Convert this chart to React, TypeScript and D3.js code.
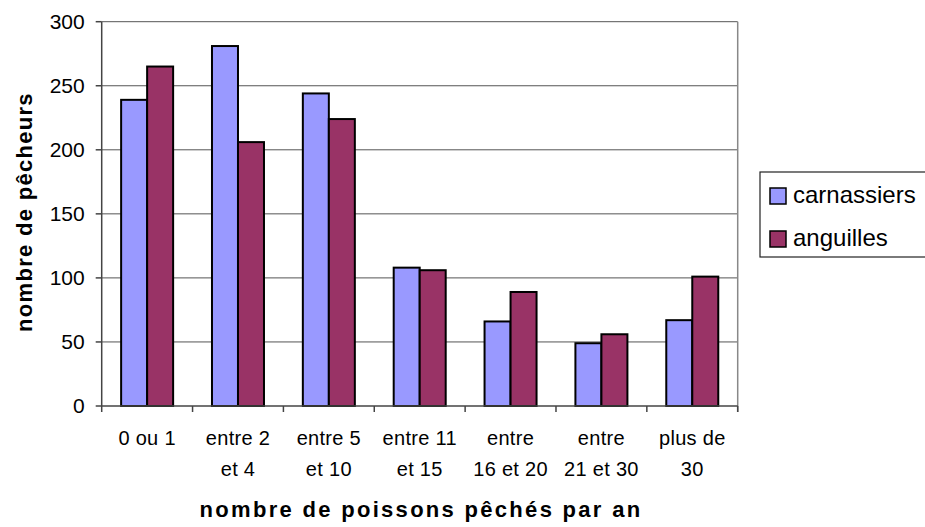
import React from "react";
import * as d3 from "d3";

const categories = [
  ["0 ou 1"],
  ["entre 2", "et 4"],
  ["entre 5", "et 10"],
  ["entre 11", "et 15"],
  ["entre", "16 et 20"],
  ["entre", "21 et 30"],
  ["plus de", "30"],
];
const carnassiers = [239, 281, 244, 108, 66, 49, 67];
const anguilles = [265, 206, 224, 106, 89, 56, 101];
const seriesNames = ["carnassiers", "anguilles"];
const colors = ["#9999FF", "#993366"];
const yTicks = [0, 50, 100, 150, 200, 250, 300];

export default function App() {
  const W = 925, H = 527;
  const left = 101.7, right = 737.7, top = 21.7, bottom = 406;
  const x = d3.scaleBand<number>().domain(d3.range(categories.length)).range([left, right]).paddingInner(0).paddingOuter(0);
  const y = d3.scaleLinear().domain([0, 300]).range([bottom, top]);
  const bw = 26;
  const series = [carnassiers, anguilles];
  const font = "'Liberation Sans', Arial, sans-serif";
  return (
    <svg width={W} height={H} style={{ position: "absolute", left: 0, top: 0 }} fontFamily={font}>
      <rect width={W} height={H} fill="#fff" />
      {yTicks.map((t) => (
        <g key={t}>
          {t > 0 && <line x1={left} x2={right} y1={y(t)} y2={y(t)} stroke="#555" strokeWidth={1} />}
          <line x1={left - 6} x2={left} y1={y(t)} y2={y(t)} stroke="#444" strokeWidth={1.5} />
          <text x={left - 17} y={y(t)} dy="0.35em" textAnchor="end" fontSize={21}>{t}</text>
        </g>
      ))}
      <line x1={right} x2={right} y1={top} y2={bottom + 6} stroke="#888" strokeWidth={1.5} />
      {categories.map((c, i) => {
        const x0 = x(i)!;
        const cx = x0 + x.bandwidth() / 2;
        return (
          <g key={i}>
            {series.map((s, j) => (
              <rect key={j} x={cx - bw + j * bw} y={y(s[i])} width={bw} height={bottom - y(s[i])}
                fill={colors[j]} stroke="#000" strokeWidth={2} />
            ))}
            {c.map((line, k) => (
              <text key={k} x={cx} y={445 + k * 31} textAnchor="middle" fontSize={20} letterSpacing={0.3}>{line}</text>
            ))}
          </g>
        );
      })}
      {d3.range(categories.length + 1).map((i) => {
        const xx = left + i * x.bandwidth();
        return <line key={i} x1={xx} x2={xx} y1={bottom} y2={bottom + 6} stroke="#444" strokeWidth={1.5} />;
      })}
      <line x1={left} x2={left} y1={top} y2={bottom} stroke="#444" strokeWidth={1.5} />
      <line x1={left} x2={right} y1={bottom} y2={bottom} stroke="#444" strokeWidth={1.5} />
      <text x={421} y={517} textAnchor="middle" fontSize={22} fontWeight="bold" letterSpacing={2.3}>nombre de poissons pêchés par an</text>
      <text transform={`translate(32,212) rotate(-90)`} textAnchor="middle" fontSize={22} fontWeight="bold" letterSpacing={1.3}>nombre de pêcheurs</text>
      <rect x={760} y={172} width={180} height={85} fill="#fff" stroke="#222" strokeWidth={1.2} />
      {seriesNames.map((n, j) => (
        <g key={n}>
          <rect x={770} y={188 + j * 43} width={16} height={16} fill={colors[j]} stroke="#000" strokeWidth={1.5} />
          <text x={793} y={203 + j * 43} fontSize={24}>{n}</text>
        </g>
      ))}
    </svg>
  );
}
